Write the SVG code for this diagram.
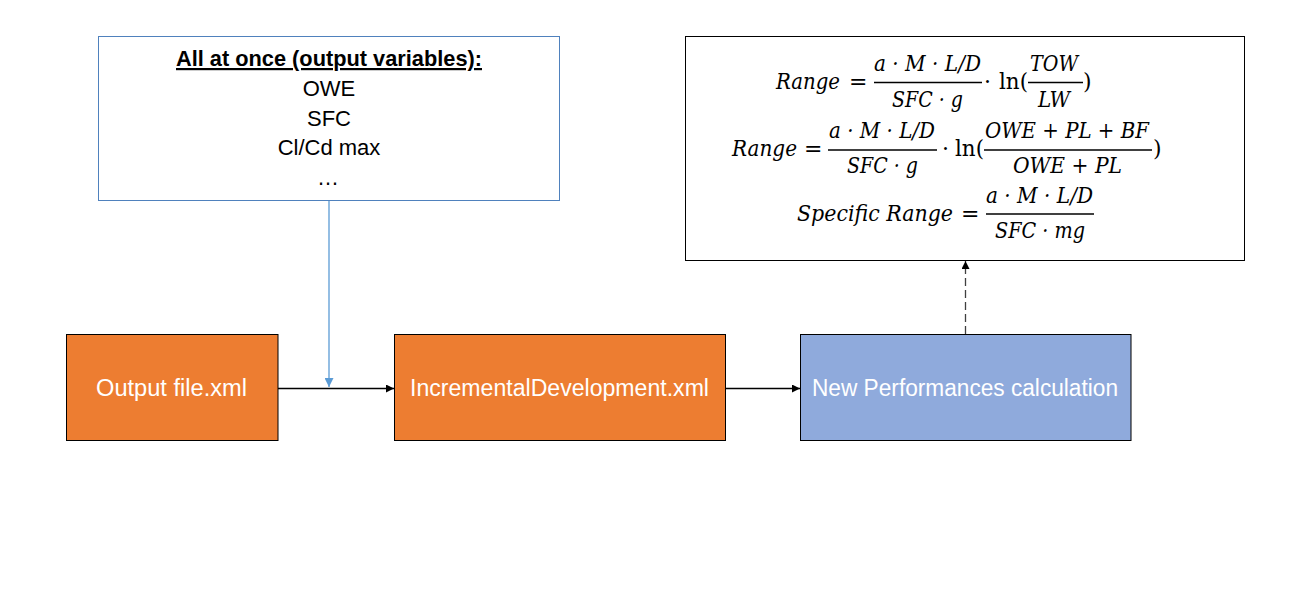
<svg xmlns="http://www.w3.org/2000/svg" width="1314" height="608" viewBox="0 0 1314 608">
<style>
.lbl{font-family:"Liberation Sans",Arial,sans-serif;font-size:23px;fill:#ffffff;}
.txt{font-family:"Liberation Sans",Arial,sans-serif;font-size:22px;fill:#000000;text-anchor:middle;}
.m{font-family:"DejaVu Serif","Liberation Serif",serif;font-style:italic;font-size:22px;fill:#000000;}
.mu{font-family:"DejaVu Serif","Liberation Serif",serif;font-style:normal;font-size:22px;fill:#000000;}
.bar{stroke:#000;stroke-width:1.4;}
.conn{fill:none;stroke:#000;stroke-width:1.3;}
</style>
<defs>
<marker id="ab" viewBox="0 0 10 10" refX="10" refY="5" markerWidth="8" markerHeight="8" markerUnits="userSpaceOnUse" orient="auto"><path d="M0,0 L10,5 L0,10 Z" fill="#000"/></marker>
<marker id="abl" viewBox="0 0 10 10" refX="10" refY="5" markerWidth="9" markerHeight="9" markerUnits="userSpaceOnUse" orient="auto"><path d="M0,0 L10,5 L0,10 Z" fill="#5b9bd5"/></marker>
<marker id="ag" viewBox="0 0 10 10" refX="10" refY="5" markerWidth="8" markerHeight="8" markerUnits="userSpaceOnUse" orient="auto"><path d="M0,0 L10,5 L0,10 Z" fill="#000"/></marker>
</defs>
<rect width="1314" height="608" fill="#ffffff"/>

<g id="connectors">
<line class="conn" x1="329" y1="200" x2="329" y2="387" style="stroke:#5b9bd5" marker-end="url(#abl)"/>
<line class="conn" x1="278" y1="388.5" x2="394" y2="388.5" marker-end="url(#ab)"/>
<line class="conn" x1="726" y1="388.5" x2="800" y2="388.5" marker-end="url(#ab)"/>
<line class="conn" x1="965.5" y1="334" x2="965.5" y2="261" stroke-dasharray="8,4" style="stroke:#404040" marker-end="url(#ag)"/>
</g>

<g id="outputs-note">
<rect x="98.5" y="36.5" width="461" height="164" fill="#ffffff" stroke="#4f81bd" stroke-width="1"/>
<text class="txt" x="329" y="66" font-weight="bold" text-decoration="underline" textLength="306" lengthAdjust="spacingAndGlyphs">All at once (output variables):</text>
<text class="txt" x="329" y="96">OWE</text>
<text class="txt" x="329" y="126">SFC</text>
<text class="txt" x="329" y="155">Cl/Cd max</text>
<text class="txt" x="328" y="185">…</text>
</g>

<g id="formulas">
<rect x="685.5" y="36.5" width="559" height="224" fill="#ffffff" stroke="#000" stroke-width="1"/>
<!-- line 1 -->
<text class="m" x="776" y="89" textLength="64" lengthAdjust="spacingAndGlyphs">Range</text>
<text class="mu" x="849" y="89">=</text>
<text class="m" x="874" y="71" textLength="107" lengthAdjust="spacingAndGlyphs">a · M · L/D</text>
<line class="bar" x1="874" y1="82.5" x2="982" y2="82.5"/>
<text class="m" x="892" y="107" textLength="71" lengthAdjust="spacingAndGlyphs">SFC · g</text>
<text class="mu" x="984" y="89">·</text>
<text class="mu" x="999" y="89" textLength="29" lengthAdjust="spacingAndGlyphs">ln(</text>
<line class="bar" x1="1028" y1="82.5" x2="1083" y2="82.5"/>
<text class="m" x="1030" y="71" textLength="48" lengthAdjust="spacingAndGlyphs">TOW</text>
<text class="m" x="1038" y="107" textLength="32" lengthAdjust="spacingAndGlyphs">LW</text>
<text class="mu" x="1083" y="89">)</text>
<!-- line 2 -->
<text class="m" x="732" y="156" textLength="65" lengthAdjust="spacingAndGlyphs">Range</text>
<text class="mu" x="804" y="156">=</text>
<text class="m" x="829" y="138" textLength="106" lengthAdjust="spacingAndGlyphs">a · M · L/D</text>
<line class="bar" x1="828" y1="150" x2="937" y2="150"/>
<text class="m" x="847" y="173" textLength="71" lengthAdjust="spacingAndGlyphs">SFC · g</text>
<text class="mu" x="942" y="156">·</text>
<text class="mu" x="955" y="156" textLength="29" lengthAdjust="spacingAndGlyphs">ln(</text>
<line class="bar" x1="984" y1="150" x2="1152" y2="150"/>
<text class="m" x="985" y="138" textLength="164" lengthAdjust="spacingAndGlyphs">OWE + PL + BF</text>
<text class="m" x="1013" y="173" textLength="109" lengthAdjust="spacingAndGlyphs">OWE + PL</text>
<text class="mu" x="1153" y="156">)</text>
<!-- line 3 -->
<text class="m" x="797" y="221" textLength="156" lengthAdjust="spacingAndGlyphs">Specific Range</text>
<text class="mu" x="961" y="221">=</text>
<text class="m" x="986" y="203" textLength="107" lengthAdjust="spacingAndGlyphs">a · M · L/D</text>
<line class="bar" x1="986" y1="214" x2="1094" y2="214"/>
<text class="m" x="995" y="238" textLength="90" lengthAdjust="spacingAndGlyphs">SFC · mg</text>
</g>

<g id="output-file">
<rect x="66.5" y="334.5" width="211.5" height="106" fill="#ed7d31" stroke="#000" stroke-width="1"/>
<text class="lbl" x="96" y="396" textLength="151" lengthAdjust="spacingAndGlyphs">Output file.xml</text>
</g>

<g id="incremental">
<rect x="394.5" y="334.5" width="331" height="106" fill="#ed7d31" stroke="#000" stroke-width="1"/>
<text class="lbl" x="410" y="396" textLength="299" lengthAdjust="spacingAndGlyphs">IncrementalDevelopment.xml</text>
</g>

<g id="performances">
<rect x="800.5" y="334.5" width="330.5" height="106" fill="#8faadc" stroke="#000" stroke-width="1"/>
<text class="lbl" x="812" y="396" textLength="306" lengthAdjust="spacingAndGlyphs">New Performances calculation</text>
</g>
</svg>
